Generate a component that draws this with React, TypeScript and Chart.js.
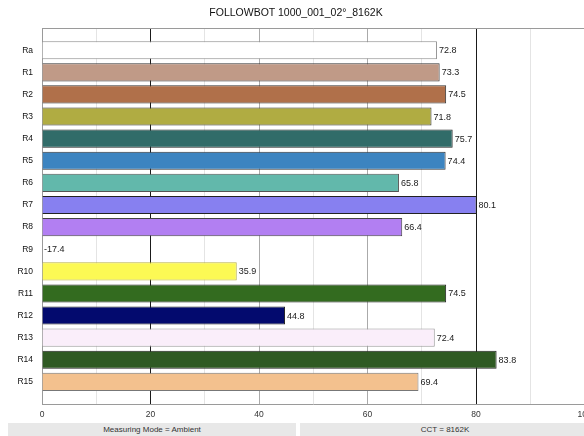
import { useEffect, useRef } from "react";
import { Chart, registerables } from "chart.js";

Chart.register(...registerables);

const TITLE = "FOLLOWBOT 1000_001_02°_8162K";
const FOOTER_LEFT = "Measuring Mode = Ambient";
const FOOTER_RIGHT = "CCT = 8162K";

const categories = ["Ra", "R1", "R2", "R3", "R4", "R5", "R6", "R7", "R8", "R9", "R10", "R11", "R12", "R13", "R14", "R15"];
const values = [72.8, 73.3, 74.5, 71.8, 75.7, 74.4, 65.8, 80.1, 66.4, -17.4, 35.9, 74.5, 44.8, 72.4, 83.8, 69.4];
const barColors = [
  "#ffffff", "#c09a87", "#b0704a", "#b0ac42", "#316c69", "#3c84c0", "#62b8ab", "#8780f0",
  "#b27ff2", "#e0e0e0", "#fcf954", "#336b1f", "#030a6e", "#faeefa", "#2f5a23", "#f3c18e",
];
const barBorders = [
  "#8a8a8a", "#333333", "#333333", "#333333", "#222222", "#333333", "#555555", "#222222",
  "#444444", "#333333", "#b8b040", "#222222", "#222222", "#999999", "#222222", "#777777",
];
const xTicks = [0, 20, 40, 60, 80, 100];

// blank slots at both ends give the half-row gap above Ra and below R15
const labels = ["", ...categories, ""];

const FONT = "'Liberation Sans', Arial, sans-serif";

const valueLabels = {
  id: "valueLabels",
  afterDatasetsDraw(chart: Chart) {
    const { ctx, chartArea } = chart;
    const meta = chart.getDatasetMeta(0);
    ctx.save();
    ctx.font = `9px ${FONT}`;
    ctx.fillStyle = "#1a1a1a";
    ctx.textBaseline = "middle";
    ctx.textAlign = "left";
    meta.data.forEach((bar: any, i: number) => {
      const v = chart.data.datasets[0].data[i] as number | null;
      if (v == null) return;
      const x = Math.max(bar.x, chartArea.left) + 2;
      ctx.fillText(String(v), x, bar.y + 0.5);
    });
    ctx.restore();
  },
};

const frame = {
  id: "frame",
  afterDraw(chart: Chart) {
    const { ctx, chartArea } = chart;
    ctx.save();
    ctx.strokeStyle = "#9a9a9a";
    ctx.lineWidth = 1;
    ctx.beginPath();
    ctx.moveTo(chartArea.left, Math.round(chartArea.top) + 0.5);
    ctx.lineTo(chartArea.right, Math.round(chartArea.top) + 0.5);
    ctx.stroke();
    ctx.restore();
  },
};

function CriChart() {
  const canvasRef = useRef<HTMLCanvasElement>(null);
  const chartRef = useRef<Chart | null>(null);

  useEffect(() => {
    if (!canvasRef.current) return;
    const data = [null, ...values, null];
    const bg = ["#fff", ...barColors, "#fff"];
    const bd = ["#fff", ...barBorders, "#fff"];

    chartRef.current = new Chart(canvasRef.current, {
      type: "bar",
      data: {
        labels,
        datasets: [
          {
            data,
            backgroundColor: bg,
            borderColor: bd,
            borderWidth: 1,
            barPercentage: 0.82,
            categoryPercentage: 1,
          },
        ],
      },
      options: {
        indexAxis: "y",
        animation: false,
        responsive: false,
        maintainAspectRatio: false,
        layout: { padding: { top: 0, right: 43.5, bottom: 0, left: 0 } },
        plugins: {
          legend: { display: false },
          tooltip: { enabled: false },
          title: { display: false },
        },
        scales: {
          x: {
            min: 0,
            max: 100,
            afterFit(scale: any) {
              scale.height = 26;
            },
            ticks: {
              stepSize: 10,
              autoSkip: false,
              maxRotation: 0,
              padding: 6,
              color: "#333",
              font: { size: 8.5, family: FONT },
              callback: (v: any) => (xTicks.includes(Number(v)) ? String(v) : ""),
            },
            grid: {
              drawTicks: false,
              lineWidth: 1,
              color: (c: any) => {
                const v = c.tick?.value;
                if (v === 20 || v === 80) return "#1a1a1a";
                if (v === 40 || v === 60 || v === 100) return "#aaaaaa";
                if (v === 0) return "#999999";
                return "#e4e4e4";
              },
            },
            border: { color: "#9a9a9a" },
          },
          y: {
            offset: false,
            afterFit(scale: any) {
              scale.width = 34;
            },
            ticks: {
              autoSkip: false,
              padding: 9,
              color: "#111",
              font: { size: 8.5, family: FONT },
            },
            grid: { display: false, drawTicks: false },
            border: { color: "#9a9a9a" },
          },
        },
      },
      plugins: [valueLabels, frame],
    });

    return () => {
      if (chartRef.current) {
        chartRef.current.destroy();
        chartRef.current = null;
      }
    };
  }, []);

  return <canvas ref={canvasRef} width={620} height={416} style={{ width: 620, height: 416 }} />;
}

export default function App() {
  const box: React.CSSProperties = {
    position: "absolute",
    top: 423,
    height: 16,
    background: "#e8e8e8",
    color: "#333",
    fontFamily: FONT,
    fontSize: 8,
    lineHeight: "13px",
    textAlign: "center",
  };
  return (
    <div
      style={{
        position: "absolute",
        left: 0,
        top: 0,
        width: 584,
        height: 436,
        overflow: "hidden",
        background: "#fff",
      }}
    >
      <div style={{ position: "absolute", left: 8, top: 14 }}>
        <CriChart />
      </div>
      <div
        style={{
          position: "absolute",
          top: 5,
          left: 0,
          width: 592,
          textAlign: "center",
          fontFamily: FONT,
          fontSize: 10.5,
          lineHeight: "14px",
          color: "#111",
        }}
      >
        {TITLE}
      </div>
      <div style={{ ...box, left: 8, width: 288 }}>{FOOTER_LEFT}</div>
      <div style={{ ...box, left: 300, width: 290 }}>{FOOTER_RIGHT}</div>
    </div>
  );
}
